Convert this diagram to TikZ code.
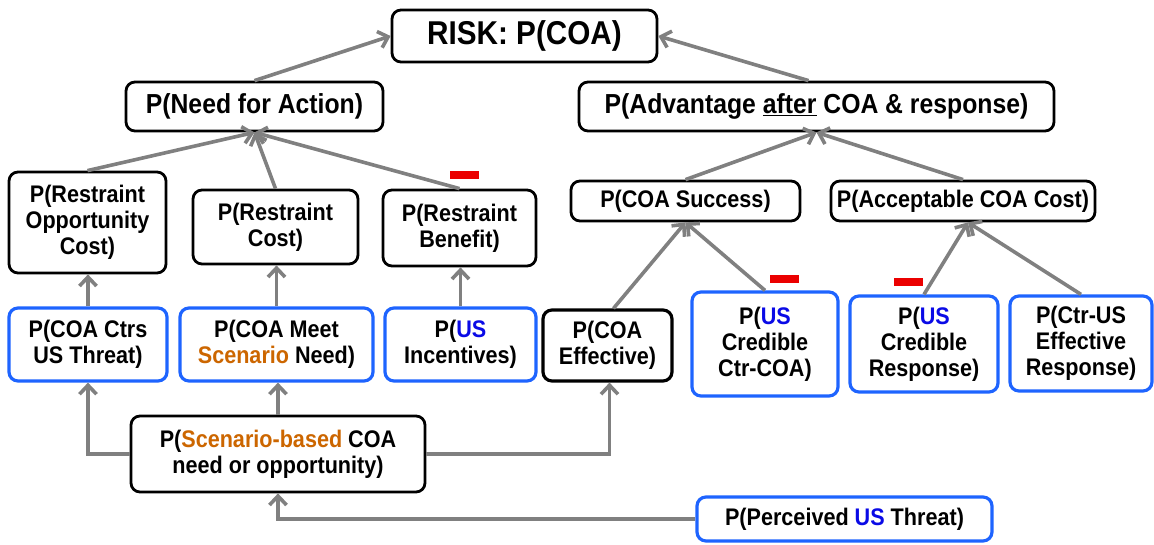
\documentclass[tikz,border=0pt]{standalone}
\usepackage{fontspec}
\setmainfont{Liberation Sans}[FakeStretch=0.9]
\usetikzlibrary{arrows.meta,calc}
\definecolor{boxblue}{RGB}{30,100,255}
\definecolor{usblue}{RGB}{10,10,230}
\definecolor{orng}{RGB}{204,102,0}
\definecolor{arrgray}{RGB}{128,128,128}
\definecolor{dashred}{RGB}{235,0,0}
\begin{document}
\begin{tikzpicture}[x=1pt,y=1pt,
  box/.style={draw=black, line width=2.8pt, rounded corners=9pt, align=center, inner sep=0pt,
    font=\bfseries\fontsize{24}{26}\selectfont},
  bbox/.style={box, draw=boxblue, line width=3.2pt},
  big/.style={font=\bfseries\fontsize{27.5}{30}\selectfont},
  arr/.style={draw=arrgray, line width=3.6pt, -{Straight Barb[length=9pt,width=17pt]}},
  minus/.style={fill=dashred, inner sep=0pt, minimum width=29pt, minimum height=8pt}]
\useasboundingbox (0,0) rectangle (1154,-544);
% top levels
\node[box, font=\bfseries\fontsize{33}{36}\selectfont, minimum width=265pt, minimum height=52pt] (risk) at (524.5,-36) {RISK: P(COA)};
\node[box, big, minimum width=257pt, minimum height=49pt] (need) at (254.5,-106.5) {P(Need for Action)};
\node[box, big, minimum width=475pt, minimum height=49pt] (adv) at (816.5,-106.5) {P(Advantage \underline{after} COA \& response)};
% third level
\node[box, minimum width=157pt, minimum height=101pt] (ropp) at (87.5,-222.5) {P(Restraint\\Opportunity\\Cost)};
\node[box, minimum width=165pt, minimum height=74pt] (rcost) at (275.5,-227) {P(Restraint\\Cost)};
\node[box, minimum width=153pt, minimum height=76pt] (rben) at (459.5,-228) {P(Restraint\\Benefit)};
\node[box, minimum width=229pt, minimum height=40pt] (succ) at (685.5,-201) {P(COA Success)};
\node[box, minimum width=264pt, minimum height=40pt] (acc) at (963,-201) {P(Acceptable COA Cost)};
% fourth level
\node[bbox, minimum width=158pt, minimum height=73pt] (ctrs) at (88,-344.5) {P(COA Ctrs\\US Threat)};
\node[bbox, minimum width=193pt, minimum height=73pt] (meet) at (276.5,-344.5) {P(COA Meet\\\textcolor{orng}{Scenario} Need)};
\node[bbox, minimum width=151pt, minimum height=73pt] (inc) at (460.5,-344.5) {P(\textcolor{usblue}{US}\\Incentives)};
\node[box, line width=3.2pt, minimum width=129pt, minimum height=71pt] (eff) at (607.5,-345.5) {P(COA\\Effective)};
\node[bbox, minimum width=146pt, minimum height=104pt] (ctrcoa) at (765,-344) {P(\textcolor{usblue}{US}\\Credible\\Ctr-COA)};
\node[bbox, minimum width=148pt, minimum height=96pt] (cresp) at (924,-344) {P(\textcolor{usblue}{US}\\Credible\\Response)};
\node[bbox, minimum width=142pt, minimum height=95pt] (ctrus) at (1081,-343.5) {P(Ctr-US\\Effective\\Response)};
% bottom
\node[box, minimum width=294pt, minimum height=76pt] (scen) at (278,-454) {P(\textcolor{orng}{Scenario-based} COA\\need or opportunity)};
\node[bbox, minimum width=295pt, minimum height=44pt] (perc) at (844.5,-519) {P(Perceived \textcolor{usblue}{US} Threat)};
% minus signs
\node[minus] (m1) at (464.5,-175) {};
\node[minus] (m2) at (784,-279) {};
\node[minus] (m3) at (908,-282) {};
% connectors
\draw[arr] (need.north) -- (risk.west);
\draw[arr] ($(adv.north)+(-8,0)$) -- (risk.east);
\draw[arr] (ropp.north) -- (need.south);
\draw[arr] (rcost.north) -- (need.south);
\draw[arr] (rben.north) -- (need.south);
\draw[arr] (succ.north) -- (adv.south);
\draw[arr] (acc.north) -- (adv.south);
\draw[arr] ($(eff.north)+(6,0)$) -- (succ.south);
\draw[arr] (ctrcoa.north) -- (succ.south);
\draw[arr] (cresp.north) -- ($(acc.south)+(5,0)$);
\draw[arr] (ctrus.north) -- ($(acc.south)+(5,0)$);
\draw[arr] (ctrs.north) -- (ctrs.north |- ropp.south);
\draw[arr] (meet.north) -- (meet.north |- rcost.south);
\draw[arr] (inc.north) -- (inc.north |- rben.south);
\draw[arr] (scen.west) -| (ctrs.south);
\draw[arr] (scen.north) -- (scen.north |- meet.south);
\draw[arr] (scen.east) -| ($(eff.south)+(2,0)$);
\draw[arr] (perc.west) -| (scen.south);
\end{tikzpicture}
\end{document}
